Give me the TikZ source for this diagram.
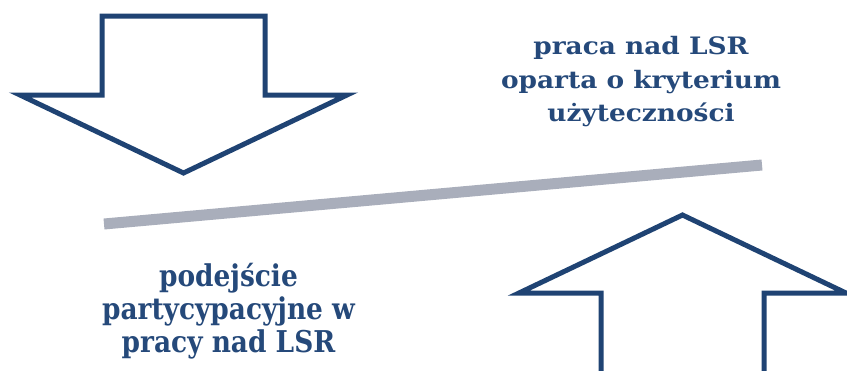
\documentclass[tikz,border=0pt]{standalone}
\usepackage{fontspec}
\setmainfont{DejaVu Serif}
\usepackage{graphicx}
\definecolor{arrowblue}{HTML}{1F4373}
\definecolor{textblue}{HTML}{25497A}
\definecolor{bargray}{HTML}{A9AEBB}
\newcommand{\toptxt}[1]{\scalebox{1.1}[1]{#1}}
\newcommand{\bottxt}[1]{\scalebox{0.88}[1]{#1}}
\begin{document}
\begin{tikzpicture}[x=1pt,y=-1pt,
  bigarrow/.style={draw=arrowblue,line width=5pt,fill=white,line join=miter},
  toplabel/.style={text=textblue,font=\fontsize{24}{33}\selectfont\bfseries,anchor=base,inner sep=0pt},
  botlabel/.style={text=textblue,font=\fontsize{30}{34}\selectfont\bfseries,anchor=base,inner sep=0pt}]
\useasboundingbox (0,0) rectangle (847,370);
\clip (0,0) rectangle (847,370);
% down arrow
\draw[bigarrow] (102,16) -- (265,16) -- (265,95) -- (347,95) -- (183.5,173) -- (20,95) -- (102,95) -- cycle;
% up arrow
\draw[bigarrow] (601,420) -- (601,293) -- (519,293) -- (682.5,215) -- (846,293) -- (764,293) -- (764,420);
% gray bar
\coordinate (barL) at (104,224);
\coordinate (barR) at (762,165);
\draw[bargray,line width=11pt] (barL) -- (barR);
% labels
\node[toplabel] (top1) at (641,54) {\toptxt{praca nad LSR}};
\node[toplabel] (top2) at (641,88) {\toptxt{oparta o kryterium}};
\node[toplabel] (top3) at (641,121) {\toptxt{użyteczności}};
\node[botlabel] (bot1) at (228.5,286) {\bottxt{podejście}};
\node[botlabel] (bot2) at (228.5,319) {\bottxt{partycypacyjne w}};
\node[botlabel] (bot3) at (228.5,352) {\bottxt{pracy nad LSR}};
\end{tikzpicture}
\end{document}
